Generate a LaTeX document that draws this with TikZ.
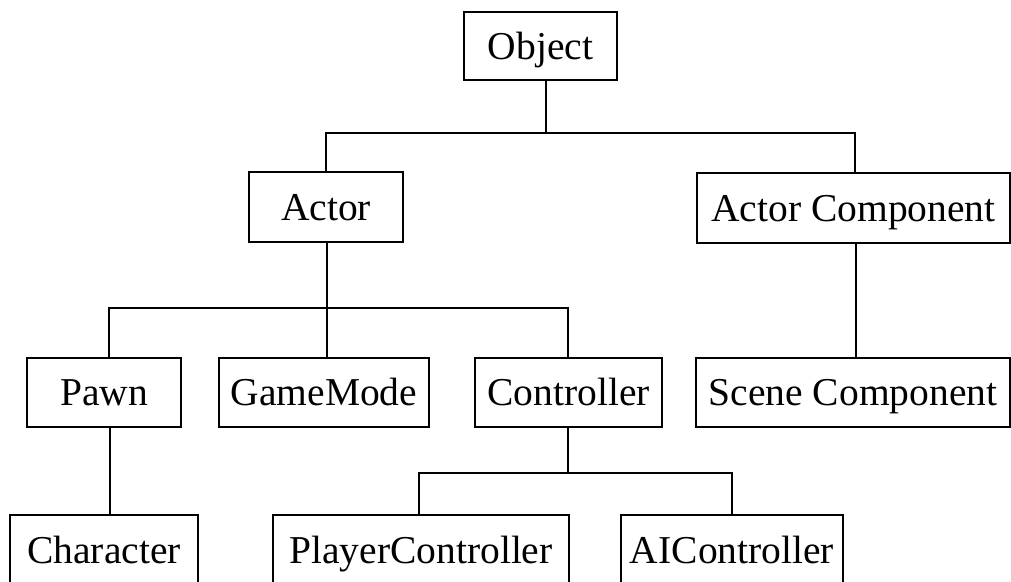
\documentclass[tikz,border=0pt]{standalone}
\usepackage{fontspec}
\setmainfont{Liberation Serif}
\begin{document}
\begin{tikzpicture}[x=1pt,y=-1pt,
  cls/.style={draw=black, line width=2.2pt, inner sep=0pt, fill=white,
    font=\fontsize{39.5}{40}\selectfont, text height=26pt, text depth=0pt},
  link/.style={draw=black, line width=2.2pt}]
\useasboundingbox (0,0) rectangle (1011,581);
\clip (0,0) rectangle (1011,581);
% row 1
\node[cls, minimum width=153pt, minimum height=68pt] (obj) at (540.5,46) {Object};
% row 2
\node[cls, minimum width=154pt, minimum height=70pt] (actor) at (326,207) {Actor};
\node[cls, minimum width=313pt, minimum height=70pt] (ac) at (853.5,208) {Actor Component};
% row 3
\node[cls, minimum width=154pt, minimum height=69pt] (pawn) at (104,392.5) {Pawn};
\node[cls, minimum width=210pt, minimum height=69pt] (gm) at (324,392.5) {GameMode};
\node[cls, minimum width=187pt, minimum height=69pt] (ctrl) at (568.5,392.5) {Controller};
\node[cls, minimum width=314pt, minimum height=69pt] (scene) at (853,392.5) {Scene Component};
% row 4
\node[cls, minimum width=188pt, minimum height=70pt] (char) at (104,550) {Character};
\node[cls, minimum width=296pt, minimum height=70pt] (pc) at (421,550) {PlayerController};
\node[cls, minimum width=222pt, minimum height=70pt] (ai) at (732,550) {AIController};
% connectors
\draw[link] ([xshift=5.5pt]obj.south) -- ++(0,52) -| (actor.north);
\draw[link] ([xshift=5.5pt]obj.south) -- ++(0,52) -| ([xshift=1.5pt]ac.north);
\draw[link] ([xshift=1pt]actor.south) -- ++(0,65) -| ([xshift=5pt]pawn.north);
\draw[link] ([xshift=1pt]actor.south) -- ([xshift=1pt]actor.south |- gm.north);
\draw[link] ([xshift=1pt]actor.south) -- ++(0,65) -| ([xshift=-0.5pt]ctrl.north);
\draw[link] ([xshift=2.5pt]ac.south) -- ([xshift=3pt]scene.north);
\draw[link] ([xshift=6pt]pawn.south) -- ([xshift=6pt]pawn.south |- char.north);
\draw[link] ([xshift=-0.5pt]ctrl.south) -- ++(0,45) -| ([xshift=-2pt]pc.north);
\draw[link] ([xshift=-0.5pt]ctrl.south) -- ++(0,45) -| (ai.north);
\end{tikzpicture}
\end{document}
